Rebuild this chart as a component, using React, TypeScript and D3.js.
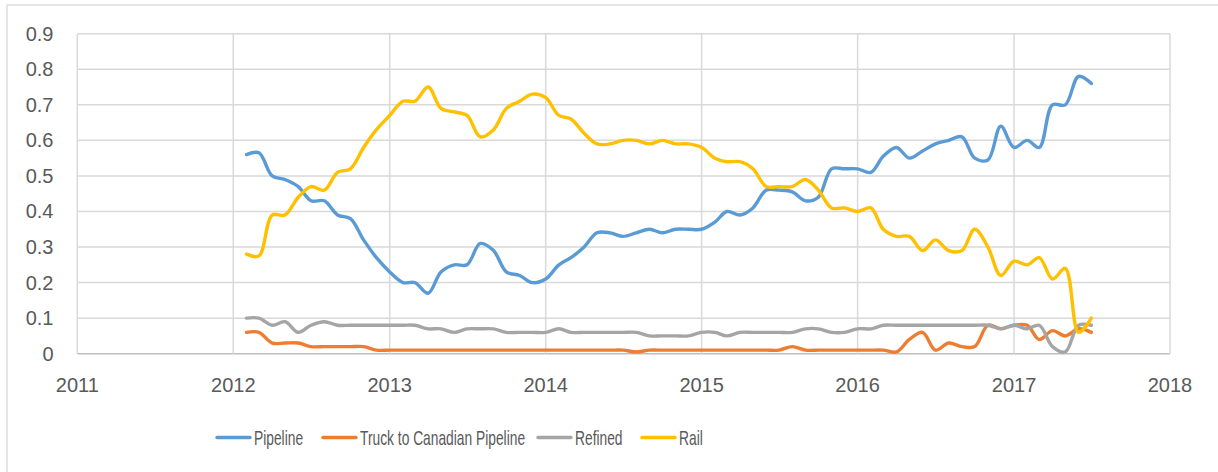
import * as d3 from 'd3'

// monthly observations, Feb 2012 .. Jul 2017
const MONTHS = d3.timeMonth.range(new Date(2012, 1, 1), new Date(2017, 7, 1))

const PIPELINE = [
  0.56, 0.565, 0.50, 0.49, 0.47, 0.43, 0.43, 0.39, 0.38, 0.32, 0.27,
  0.23, 0.20, 0.20, 0.17, 0.23, 0.25, 0.25, 0.31, 0.29, 0.23, 0.22, 0.20,
  0.21, 0.25, 0.27, 0.30, 0.34, 0.34, 0.33, 0.34, 0.35, 0.34, 0.35, 0.35,
  0.35, 0.37, 0.40, 0.39, 0.41, 0.46, 0.46, 0.455, 0.43, 0.44, 0.52, 0.52,
  0.52, 0.51, 0.555, 0.58, 0.55, 0.57, 0.59, 0.60, 0.61, 0.55, 0.545, 0.64,
  0.58, 0.60, 0.58, 0.70, 0.70, 0.78, 0.76
]

const TRUCK = [
  0.06, 0.06, 0.03, 0.03, 0.03, 0.02, 0.02, 0.02, 0.02, 0.02, 0.01,
  0.01, 0.01, 0.01, 0.01, 0.01, 0.01, 0.01, 0.01, 0.01, 0.01, 0.01, 0.01,
  0.01, 0.01, 0.01, 0.01, 0.01, 0.01, 0.01, 0.005, 0.01, 0.01, 0.01, 0.01,
  0.01, 0.01, 0.01, 0.01, 0.01, 0.01, 0.01, 0.02, 0.01, 0.01, 0.01, 0.01,
  0.01, 0.01, 0.01, 0.005, 0.04, 0.06, 0.01, 0.03, 0.02, 0.02, 0.08, 0.07,
  0.08, 0.08, 0.04, 0.065, 0.05, 0.07, 0.06
]

const REFINED = [
  0.10, 0.10, 0.08, 0.09, 0.06, 0.08, 0.09, 0.08, 0.08, 0.08, 0.08,
  0.08, 0.08, 0.08, 0.07, 0.07, 0.06, 0.07, 0.07, 0.07, 0.06, 0.06, 0.06,
  0.06, 0.07, 0.06, 0.06, 0.06, 0.06, 0.06, 0.06, 0.05, 0.05, 0.05, 0.05,
  0.06, 0.06, 0.05, 0.06, 0.06, 0.06, 0.06, 0.06, 0.07, 0.07, 0.06, 0.06,
  0.07, 0.07, 0.08, 0.08, 0.08, 0.08, 0.08, 0.08, 0.08, 0.08, 0.08, 0.07,
  0.08, 0.07, 0.08, 0.02, 0.005, 0.08, 0.08
]

const RAIL = [
  0.28, 0.275, 0.39, 0.39, 0.44, 0.47, 0.46, 0.51, 0.52, 0.58, 0.63,
  0.67, 0.71, 0.71, 0.75, 0.69, 0.68, 0.67, 0.61, 0.63, 0.69, 0.71, 0.73,
  0.72, 0.67, 0.66, 0.62, 0.59, 0.59, 0.60, 0.60, 0.59, 0.60, 0.59, 0.59,
  0.58, 0.55, 0.54, 0.54, 0.52, 0.47, 0.47, 0.47, 0.49, 0.46, 0.41, 0.41,
  0.40, 0.41, 0.35, 0.33, 0.33, 0.29, 0.32, 0.29, 0.29, 0.35, 0.30, 0.22,
  0.26, 0.25, 0.27, 0.21, 0.24, 0.06, 0.10
]

const SERIES_NAMES = ['Pipeline', 'Truck to Canadian Pipeline', 'Refined', 'Rail']
const SERIES_COLORS = ['#5B9BD5', '#ED7D31', '#A5A5A5', '#FFC000']
const SERIES_VALUES = [PIPELINE, TRUCK, REFINED, RAIL]

const YEAR_TICKS = [2011, 2012, 2013, 2014, 2015, 2016, 2017, 2018]
const Y_TICKS = [0, 0.1, 0.2, 0.3, 0.4, 0.5, 0.6, 0.7, 0.8, 0.9]

const WIDTH = 1218
const HEIGHT = 472

// legend layout (line start x for each entry)
const LEGEND_X = [217, 323, 538, 642]

export default function App() {
  const x = d3.scaleTime()
    .domain([new Date(2011, 0, 1), new Date(2018, 0, 1)])
    .range([77.3, 1170])

  const y = d3.scaleLinear()
    .domain([0, 0.9])
    .range([353.7, 33.7])

  const line = d3.line<number>()
    .x((_, i) => x(MONTHS[i]))
    .y(d => y(d))
    .curve(d3.curveCatmullRom.alpha(0.5))

  const font = '"Liberation Sans", Arial, sans-serif'

  return (
    <svg width={WIDTH} height={HEIGHT} style={{ position: 'absolute', left: 0, top: 0, background: '#fff' }}>
      {/* chart frame */}
      <rect x={7} y={5} width={1230} height={490} fill="#fff" stroke="#d9d9d9" strokeWidth={1.3} />

      {/* horizontal grid */}
      {Y_TICKS.map(t => (
        <line key={`h-${t}`} x1={x(new Date(2011, 0, 1))} x2={x(new Date(2018, 0, 1))}
          y1={y(t)} y2={y(t)} stroke={t === 0 ? '#bfbfbf' : '#d9d9d9'} strokeWidth={1.5} />
      ))}

      {/* vertical grid */}
      {YEAR_TICKS.map(yr => (
        <line key={`v-${yr}`} x1={x(new Date(yr, 0, 1))} x2={x(new Date(yr, 0, 1))}
          y1={y(0.9)} y2={y(0)} stroke="#d9d9d9" strokeWidth={1.5} />
      ))}

      {/* y labels */}
      {Y_TICKS.map(t => (
        <text key={`yl-${t}`} x={53.5} y={y(t)} dy="0.35em" textAnchor="end"
          fontFamily={font} fontSize={20} fill="#595959">
          {t === 0 ? '0' : t.toFixed(1)}
        </text>
      ))}

      {/* x labels */}
      {YEAR_TICKS.map(yr => (
        <text key={`xl-${yr}`} x={x(new Date(yr, 0, 1))} y={391.5} textAnchor="middle"
          fontFamily={font} fontSize={20} fill="#595959">
          {yr}
        </text>
      ))}

      {/* series */}
      {SERIES_VALUES.map((vals, k) => (
        <path key={SERIES_NAMES[k]} d={line(vals) || ''} fill="none"
          stroke={SERIES_COLORS[k]} strokeWidth={3.4} strokeLinecap="round" strokeLinejoin="round" />
      ))}

      {/* legend */}
      {SERIES_NAMES.map((name, k) => (
        <g key={`lg-${name}`}>
          <line x1={LEGEND_X[k]} x2={LEGEND_X[k] + 33} y1={437.5} y2={437.5}
            stroke={SERIES_COLORS[k]} strokeWidth={3.4} strokeLinecap="round" />
          <text transform={`translate(${LEGEND_X[k] + 37},437.5) scale(0.69,1)`} dy="0.35em"
            fontFamily={font} fontSize={20} fill="#595959">
            {name}
          </text>
        </g>
      ))}
    </svg>
  )
}
